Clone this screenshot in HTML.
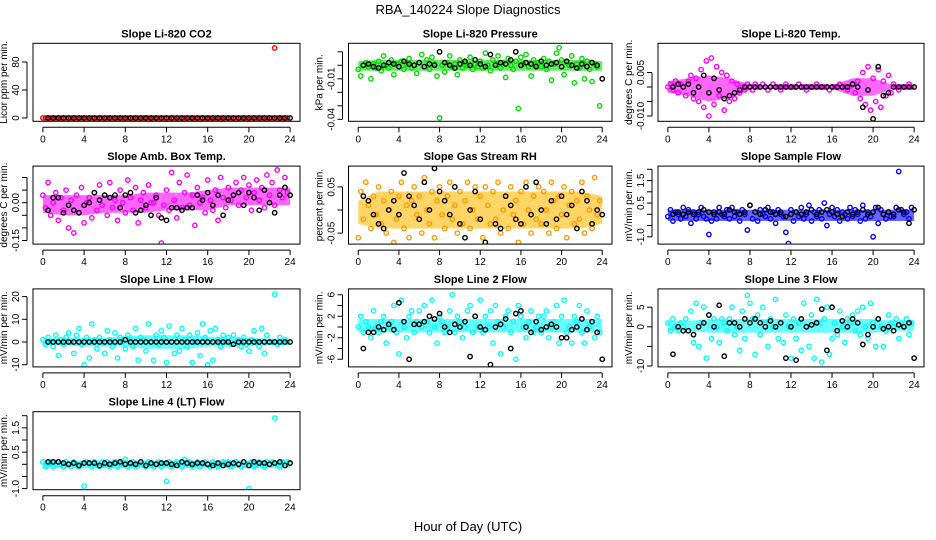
<!DOCTYPE html>
<html><head><meta charset="utf-8">
<style>
html,body{margin:0;padding:0;background:#fff;}
svg{display:block;font-family:"Liberation Sans",sans-serif;}
</style></head>
<body>
<svg id="chart" width="936" height="540" viewBox="0 0 936 540" xmlns="http://www.w3.org/2000/svg">
<text x="468" y="14" text-anchor="middle" font-size="13">RBA_140224  Slope Diagnostics</text>
<text x="468" y="531" text-anchor="middle" font-size="13">Hour of Day (UTC)</text>
</svg>
<script>
const hoursC=[0,0.25,0.5,0.75,1,1.25,1.5,1.75,2,2.25,2.5,2.75,3,3.25,3.5,3.75,4,4.25,4.5,4.75,5,5.25,5.5,5.75,
6,6.25,6.5,6.75,7,7.25,7.5,7.75,8,8.25,8.5,8.75,9,9.25,9.5,9.75,10,10.25,10.5,10.75,11,11.25,11.5,11.75,
12,12.25,12.5,12.75,13,13.25,13.5,13.75,14,14.25,14.5,14.75,15,15.25,15.5,15.75,16,16.25,16.5,16.75,17,17.25,17.5,17.75,
18,18.25,18.5,18.75,19,19.25,19.5,19.75,20,20.25,20.5,20.75,21,21.25,21.5,21.75,22,22.25,22.5,22.75,23,23.25,23.5,23.75];
const hoursK=[0.5,1,1.5,2,2.5,3,3.5,4,4.5,5,5.5,6,6.5,7,7.5,8,8.5,9,9.5,10,10.5,11,11.5,12,
12.5,13,13.5,14,14.5,15,15.5,16,16.5,17,17.5,18,18.5,19,19.5,20,20.5,21,21.5,22,22.5,23,23.5,24];
const bandHours=[0,2,4,6,8,10,12,14,16,18,20,22,24];
const xTicks=[0,4,8,12,16,20,24];

const co2Colored=[0,0,0,0,0,0,0,0,0,0,0,0,0,0,0,0,0,0,0,0,0,0,0,0,0,0,0,0,0,0,0,0,0,0,0,0,0,0,0,0,0,0,0,0,0,0,0,0,
0,0,0,0,0,0,0,0,0,0,0,0,0,0,0,0,0,0,0,0,0,0,0,0,0,0,0,0,0,0,0,0,0,0,0,0,0,0,0,0,0,0,100,0,0,0,0,0];
const co2Black=[0,0,0,0,0,0,0,0,0,0,0,0,0,0,0,0,0,0,0,0,0,0,0,0,0,0,0,0,0,0,0,0,0,0,0,0,0,0,0,0,0,0,0,0,0,0,0,0];
const presColored=[-3,-8,0,2,-1,-10,1,-2,3,-4,7,0,-2,4,-7,1,-1,3,-3,1,5,-2,0,-6,
2,8,-1,4,-3,6,1,-8,-39,0,-5,2,7,-1,1,-7,4,-2,2,0,6,-3,1,-1,
3,-2,9,0,-4,4,1,7,-2,2,-9,5,0,-3,3,-32,6,1,8,-1,-8,4,0,2,
-1,5,-3,3,-11,1,9,13,4,-7,2,0,7,-13,1,-2,5,-10,3,-3,-12,1,-1,-30];
const presBlack=[0,1,-1,-2,0,2,1,-1,3,1,0,2,-1,1,0,10,2,0,-2,1,3,0,4,1,-1,8,0,2,1,4,10,0,2,1,-1,3,0,1,2,-1,3,0,-2,1,-1,2,0,-10];
const presBandLow=[-4,-4,-4,-4,-4,-4,-4,-4,-4,-4,-4,-4,-4];
const presBandHigh=[3,4,4,4,4,4,4,4,4,4,4,4,3];
const tempColored=[0,1,-1,2,-2,1,0,-3,2,4,-4,3,-5,6,-7,9,-10,10,-6,7,-3,5,-8,4,
-5,2,-4,1,-2,0,-1,1,0,-1,1,0,0,1,0,-1,0,1,0,0,-1,0,1,0,
0,0,0,1,0,0,-1,0,0,0,1,0,0,0,0,-1,0,0,0,1,0,0,-1,0,
1,-2,2,-4,5,-6,7,-8,3,-5,6,-7,2,-3,4,-2,1,0,-1,0,0,0,1,0];
const tempBlack=[0,1,0,1,-2,0,4,-2,3,-1,-4,-3,-2,-1,0,0,0,0,0,0,0,0,0,0,0,0,0,0,0,0,0,0,0,0,0,1,0,-7,-1,-11,7,-3,-2,0,0,0,0,0];
const tempBandLow=[-2,-3,-5,-4,-1,-0.6,-0.6,-0.6,-0.6,-3,-3,-0.6,-0.6];
const tempBandHigh=[2,3,4,3,1,0.6,0.6,0.6,0.6,3,3,0.6,0.6];
const ambColored=[3,-2,8,-5,0,4,-7,2,-3,5,-10,1,-12,3,-4,6,-8,0,2,-6,4,-3,7,-1,
3,-5,8,-2,1,-7,5,0,-4,9,2,-3,6,-8,1,4,-2,7,0,0,3,-5,-16,-1,
5,-3,12,1,-6,8,-2,4,11,-1,3,-9,6,0,2,-4,9,1,-3,5,-7,10,2,-2,
6,1,3,8,-1,5,10,2,7,-3,4,9,1,6,-2,11,3,8,-1,13,5,2,10,4];
const ambBlack=[-3,2,2,-4,-1,-3,-4,-1,0,4,1,3,2,3,-2,3,4,-4,-3,-1,-5,2,-6,-7,-2,-2,-3,-2,-2,3,1,4,-1,3,-5,1,3,4,-1,4,2,-3,5,0,-4,3,6,3];
const ambBandLow=[-4,-5,-5,-4,-4,-4,-3,-3,-3,-1,-1,-1,-1];
const ambBandHigh=[3,3,3,3,3,4,4,4,5,6,6,6,6];
const rhColored=[-6,4,-2,6,1,-4,3,-1,5,-3,2,-5,0,4,-7,-2,3,6,-4,1,-6,2,5,-1,
3,-5,7,0,-3,4,-6,2,5,-1,-4,3,6,-2,1,-5,4,-3,2,6,-4,0,5,-2,
3,-6,5,1,-3,4,-2,6,-5,0,3,-4,5,-1,2,-7,4,-3,6,0,-5,3,-2,5,
-3,4,0,-5,6,2,-4,3,-1,5,-6,1,4,-3,2,-2,6,-5,3,0,-4,7,-1,2];
const rhBlack=[3,2,-1,-3,-4,0,2,-1,8,3,1,-2,6,0,9,4,2,-1,5,-3,-6,0,4,-2,-7,-9,-3,-4,3,1,-2,-3,5,-1,6,0,-3,2,-2,3,-1,1,-4,4,2,-3,0,-1];
const rhBandLow=[-3,-4,-4,-4,-4,-4,-4,-4,-4,-4,-4,-4,-3];
const rhBandHigh=[2,4,4,4,4,4,4,4,4,4,4,4,3];
const sampleColored=[-1,2,-3,1,0,-2,3,-1,2,-4,1,-2,0,3,-1,-2,-9,-3,1,-2,3,0,-1,2,
-2,3,-1,1,-3,2,0,-7,4,-2,1,-3,2,0,-1,3,-2,1,-4,2,0,-1,-8,-13,
2,-3,1,-1,3,-2,0,4,-3,1,-1,2,-2,5,-5,0,3,-1,2,-3,1,0,-2,3,
-1,2,0,-3,4,-2,1,-1,-10,3,-4,2,0,-2,1,-1,-1,3,19,2,0,1,-2,3];
const sampleBlack=[0,1,0,1,0,1,2,1,0,1,0,2,1,0,1,4,1,0,2,1,0,1,-1,0,1,0,1,2,0,1,2,1,0,-1,1,0,1,2,0,1,3,0,1,0,2,1,-4,2];
const sampleBandLow=[-3,-3,-3,-3,-3,-3,-3,-3,-3,-3,-3,-3,-3];
const sampleBandHigh=[2,2,2,2,2,2,2,2,2,2,2,2,2];
const line1Colored=[1,-1,2,0,-2,3,-6,1,-1,2,4,0,-5,3,6,-1,-10,2,-7,8,1,-3,2,0,
-5,5,1,-2,4,-7,2,0,-3,3,1,-2,6,-8,2,1,-4,8,0,-8,3,-1,5,2,
-9,7,0,-5,3,-4,6,1,-2,3,-9,0,4,-6,8,2,-10,5,-8,6,1,-2,3,0,
2,-1,3,0,1,-2,2,-1,-4,1,5,0,-2,6,-5,3,0,0,21,-1,2,0,1,0];
const line1Black=[0,0,0,0,0,0,0,0,0,0,0,0,0,0,0,1,0,0,0,0,0,0,0,0,0,0,0,0,0,0,0,0,0,0,0,0,-1,0,0,0,0,0,0,0,0,0,0,0];
const line1BandLow=[-1.5,-1.5,-2,-2,-2,-3,-3,-3,-2,-2,-2,-1.5,-1.5];
const line1BandHigh=[1.5,2,2,2,2.5,3,3,3,2.5,2,2,1.5,1.5];
const line2Colored=[0,2,-1,1,0,-2,3,0,-1,1,2,-3,0,1,4,-1,-5,5,0,-2,2,3,-1,1,
3,0,4,1,-1,5,0,-3,2,1,-1,0,3,6,-1,2,1,-2,0,3,4,-1,2,0,
5,-1,2,0,3,-3,4,1,-5,0,2,3,-1,1,-6,4,2,0,-2,1,3,-1,0,2,
-1,2,3,-2,0,1,4,-3,2,5,-1,0,-3,2,1,4,-1,-3,3,0,1,-2,2,-1];
const line2Black=[-4,-1,-1,0,-0.5,0.5,-0.5,4.5,1,-6,0.5,0.5,1,2,1.5,2.5,0,-1,0.5,0,1,-5.5,2,0,-0.5,-7,0,0.5,1.5,-4,2.5,3,0,-1,1,-0.5,0,0.5,0,-2,-2,-0.5,0,1.5,-0.5,1,-1,-6];
const line2BandLow=[-1,-1,-1,-1,-1,-1,-1,-1,-1,-1,-1,-1,-1];
const line2BandHigh=[1.5,1.5,1.5,1.5,1.5,1.5,1.5,1.5,1.5,1.5,1.5,1.5,1.5];
const line3Colored=[1,-1,2,0,-1,1,0,2,-1,4,-4,6,-5,1,5,-8,3,-3,2,0,-4,2,1,-1,
2,5,-2,0,-6,4,-3,8,6,2,-7,3,-2,5,1,-5,2,0,7,-3,1,-4,3,0,
-8,2,-3,1,-6,6,0,-5,3,-8,7,1,-9,2,5,-7,-3,1,-2,4,0,-4,2,1,
3,-1,4,-2,5,0,-3,6,1,-5,2,0,-5,-1,3,1,0,2,-3,1,0,2,-2,1];
const line3Black=[-7,0,-1,-1,-2,0,1,3,0,5.5,-7.5,1,1,0,2,1,2,1,0,1.5,0,1,-8,0,-8.5,2,0,0.5,1,4.5,-6,5,-1,1.5,0,2,1,-4.5,-2,0,2,-0.5,0,-1,0.5,0,1,-8];
const line3BandLow=[-1,-1,-1.5,-1.5,-1.5,-1.5,-1.5,-1.5,-1.5,-1.5,-1.5,-1,-1];
const line3BandHigh=[1.5,1.5,2,2,2,2,2,2,2,2,2,1.5,1.5];
const line4Colored=[1,-1,0,1,-1,0,1,0,-1,1,0,-1,1,0,-1,0,-9,1,0,-1,1,0,-1,1,
0,1,-1,0,1,-1,0,1,2,-1,0,1,-1,0,1,0,-1,1,0,-1,0,1,-1,0,
-7,1,-1,0,1,0,-1,2,0,1,-1,0,1,-1,0,1,0,-1,1,0,-1,0,1,0,
1,-1,0,1,0,-1,1,0,-10,1,-1,0,1,0,-1,1,0,1,19,0,-1,1,0,1];
const line4Black=[1,1,1,0.5,0,0.5,-0.5,0.5,0.5,0.5,-0.5,0.5,0,0.5,1,0,0.5,0,1,-0.5,0.5,0,0.5,0.5,0,-0.5,1,0.5,0,0.5,0.5,0,-0.5,0.5,-0.5,0,0.5,0,1,-0.5,1,0.5,0.5,0,0.5,1,-0.5,0.5];
const line4BandLow=[-1.5,-1.5,-1.5,-1.5,-1.5,-1.5,-1.5,-1.5,-1.5,-1.5,-1.5,-1.5,-1.5];
const line4BandHigh=[1.5,1.5,1.5,1.5,1.5,1.5,1.5,1.5,1.5,1.5,1.5,1.5,1.5];

const NS='http://www.w3.org/2000/svg';
const svg=document.getElementById('chart');
const cols=[[33,300],[348.5,612],[658,924]];
const rows=[43.3,166.1,288.9,411.7];
const H=78;

const panels=[
 {name:'co2',title:'Slope Li-820 CO2',ylab:'Licor ppm per min.',c:0,r:0,unit:1,y0:118,ppu:0.7,col:'#ff0000',bandCol:'#ff0000',colored:co2Colored,black:co2Black,yt:[0,40,80],yl:['0','40','80']},
 {name:'pressure',title:'Slope Li-820 Pressure',ylab:'kPa per min.',c:1,r:0,unit:0.001,y0:65.3,ppu:1350,col:'#00dd00',bandCol:'#00dd00',colored:presColored,black:presBlack,bl:presBandLow,bh:presBandHigh,yt:[-0.04,-0.03,-0.02,-0.01,0,0.01],yl:['-0.04','','','-0.01','','']},
 {name:'li820-temp',title:'Slope Li-820 Temp.',ylab:'degrees C per min.',c:2,r:0,unit:0.001,y0:87,ppu:2900,col:'#ff00ff',bandCol:'#ff00ff',colored:tempColored,black:tempBlack,bl:tempBandLow,bh:tempBandHigh,yt:[-0.01,-0.005,0,0.005],yl:['-0.010','','','0.005']},
 {name:'amb-box-temp',title:'Slope Amb. Box Temp.',ylab:'degrees C per min.',c:0,r:1,unit:0.01,y0:202.7,ppu:252,col:'#ff00ff',bandCol:'#ff00ff',colored:ambColored,black:ambBlack,bl:ambBandLow,bh:ambBandHigh,yt:[-0.15,-0.1,-0.05,0,0.05,0.1],yl:['-0.15','','','0.00','','']},
 {name:'gas-stream-rh',title:'Slope Gas Stream RH',ylab:'percent per min.',c:1,r:1,unit:0.01,y0:210,ppu:462,col:'#ff9900',bandCol:'#ffbb00',colored:rhColored,black:rhBlack,bl:rhBandLow,bh:rhBandHigh,yt:[-0.05,0,0.05],yl:['-0.05','','0.05']},
 {name:'sample-flow',title:'Slope Sample Flow',ylab:'mV/min per min.',c:2,r:1,unit:0.1,y0:214.3,ppu:22.5,col:'#0000ff',bandCol:'#0000ff',colored:sampleColored,black:sampleBlack,bl:sampleBandLow,bh:sampleBandHigh,yt:[-1,-0.5,0,0.5,1,1.5,2],yl:['-1.0','','','0.5','','1.5','']},
 {name:'line1-flow',title:'Slope Line 1 Flow',ylab:'mV/min per min.',c:0,r:2,unit:1,y0:342,ppu:2.27,col:'#00ffff',bandCol:'#00ffff',colored:line1Colored,black:line1Black,bl:line1BandLow,bh:line1BandHigh,yt:[-10,0,10,20],yl:['-10','0','10','20']},
 {name:'line2-flow',title:'Slope Line 2 Flow',ylab:'mV/min per min.',c:1,r:2,unit:1,y0:327,ppu:5.375,col:'#00ffff',bandCol:'#00ffff',colored:line2Colored,black:line2Black,bl:line2BandLow,bh:line2BandHigh,yt:[-6,-4,-2,0,2,4,6],yl:['-6','','-2','','2','','6']},
 {name:'line3-flow',title:'Slope Line 3 Flow',ylab:'mV/min per min.',c:2,r:2,unit:1,y0:326.8,ppu:3.92,col:'#00ffff',bandCol:'#00ffff',colored:line3Colored,black:line3Black,bl:line3BandLow,bh:line3BandHigh,yt:[-10,-5,0,5],yl:['-10','','0','5']},
 {name:'line4-flow',title:'Slope Line 4 (LT) Flow',ylab:'mV/min per min.',c:0,r:3,unit:0.1,y0:464.3,ppu:24.3,col:'#00ffff',bandCol:'#00ffff',colored:line4Colored,black:line4Black,bl:line4BandLow,bh:line4BandHigh,yt:[-1,-0.5,0,0.5,1,1.5,2],yl:['-1.0','','','0.5','','1.5','']}
];

function mk(tag,attrs,parent){const e=document.createElementNS(NS,tag);for(const k in attrs)e.setAttribute(k,attrs[k]);(parent||svg).appendChild(e);return e;}

panels.forEach(p=>{
  const L=cols[p.c][0],R=cols[p.c][1],T=rows[p.r],B=T+H,W=R-L;
  const xs=h=>L+W*0.037+h*(W/1.08)/24;
  const ys=v=>p.y0-v*p.ppu;
  const g=mk('g',{});
  
  
  const clipId='clip-'+p.name;
  const cp=mk('clipPath',{id:clipId},g);
  mk('rect',{x:L,y:T,width:W,height:H},cp);
  const plot=mk('g',{'clip-path':'url(#'+clipId+')'},g);
  if(p.bl){
    let pts=bandHours.map((h,i)=>xs(h)+','+ys(p.bh[i]*p.unit));
    pts=pts.concat(bandHours.map((h,i)=>xs(h)+','+ys(p.bl[i]*p.unit)).reverse());
    const band=mk('polygon',{points:pts.join(' '),fill:p.bandCol,opacity:0.6},plot);
    
    
  }
  p.colored.forEach((v,i)=>{
    const c=mk('circle',{cx:xs(hoursC[i]),cy:ys(v*p.unit),r:2.2,fill:'none',stroke:p.col,'stroke-width':1.4},plot);
    
    
  });
  p.black.forEach((v,i)=>{
    const c=mk('circle',{cx:xs(hoursK[i]),cy:ys(v*p.unit),r:2.2,fill:'none',stroke:'#000','stroke-width':1.4},plot);
    
    
  });
  const box=mk('rect',{x:L,y:T,width:W,height:H,fill:'none',stroke:'#000','stroke-width':1},g);
  
  
  const t=mk('text',{x:(L+R)/2,y:T-6,'text-anchor':'middle','font-size':11,'font-weight':'bold'},g);
  t.textContent=p.title;
  
  
  mk('line',{x1:xs(0),x2:xs(24),y1:B+6,y2:B+6,stroke:'#000'},g);
  xTicks.forEach(h=>{
    mk('line',{x1:xs(h),x2:xs(h),y1:B+6,y2:B+11,stroke:'#000'},g);
    const tl=mk('text',{x:xs(h),y:B+21,'text-anchor':'middle','font-size':10},g);
    tl.textContent=h;
    
    
  });
  mk('line',{x1:L-6,x2:L-6,y1:ys(p.yt[0]),y2:ys(p.yt[p.yt.length-1]),stroke:'#000'},g);
  p.yt.forEach((v,i)=>{
    const y=ys(v);
    mk('line',{x1:L-11,x2:L-6,y1:y,y2:y,stroke:'#000'},g);
    if(p.yl[i]){
      const tl=mk('text',{x:0,y:0,'text-anchor':'middle','font-size':10,transform:'translate('+(L-14)+','+y+') rotate(-90)'},g);
      tl.textContent=p.yl[i];
      
      
    }
  });
  const yl=mk('text',{x:0,y:0,'text-anchor':'middle','font-size':10,transform:'translate('+(L-26)+','+(T+H/2)+') rotate(-90)'},g);
  yl.textContent=p.ylab;
  
  
});
</script>
</body></html>
